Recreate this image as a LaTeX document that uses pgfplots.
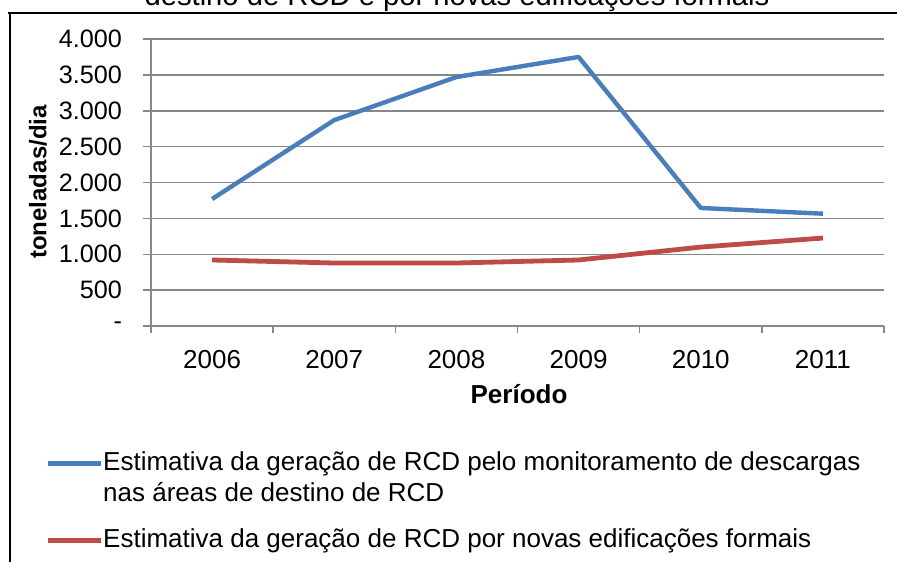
\documentclass[border=0pt]{standalone}
\usepackage{pgfplots}
\pgfplotsset{compat=1.18}
\usepackage{fontspec}
\setmainfont{Liberation Sans}
\definecolor{serA}{HTML}{4A7EBB}
\definecolor{serB}{HTML}{BE4B48}
\definecolor{gridc}{HTML}{888888}
\pgfplotsset{
  legA/.style={legend image code/.code={\draw[##1] (0pt,19pt) -- (26.5pt,19pt);}},
  legB/.style={legend image code/.code={\draw[##1] (0pt,3.5pt) -- (26.5pt,3.5pt);}},
}
\begin{document}
\fontsize{13pt}{13.5pt}\selectfont
\begin{tikzpicture}
\useasboundingbox (0,0) rectangle (448.5pt,-280.5pt);
\draw[line width=1pt] (4pt,-6.5pt) -- (460pt,-6.5pt);
\draw[line width=1pt] (5pt,-6.5pt) -- (5pt,-290pt);
\node[anchor=base,font=\fontsize{14.6pt}{16pt}\selectfont] at (228.5pt,-3pt) {destino de RCD e por novas edificações formais};
\node[rotate=90,font=\fontsize{12pt}{13pt}\selectfont\bfseries] at (19pt,-91pt) {toneladas/dia};
\node[font=\bfseries] at (259.5pt,-197pt) {Período};
\begin{axis}[at={(75.5pt,-163pt)}, anchor=south west,
  width=366.5pt, height=143.5pt, scale only axis,
  xmin=-0.5, xmax=5.5, ymin=0, ymax=4000,
  axis x line*=bottom, axis y line*=left,
  axis line style={gridc, line width=0.75pt},
  xtick={0,...,5}, xticklabels={2006,2007,2008,2009,2010,2011},
  minor xtick={-0.5,0.5,...,5.5},
  ytick={0,500,...,4000},
  yticklabels={-,500,1.000,1.500,2.000,2.500,3.000,3.500,4.000},
  tick align=outside,
  major x tick style={draw=none},
  minor x tick style={gridc, line width=0.75pt},
  major y tick style={gridc, line width=0.75pt},
  major tick length=4pt, minor tick length=3.5pt,
  ymajorgrids, grid style={gridc, line width=0.75pt},
  yticklabel style={xshift=-6pt, font=\fontsize{12.6pt}{13pt}\selectfont},
  xticklabel style={yshift=-3.5pt, font=\fontsize{13pt}{13.5pt}\selectfont},
  legend style={at={(axis description cs:-0.1446,-0.437)}, anchor=north west,
    draw=none, fill=none, inner sep=0pt, row sep=11.5pt,
    nodes={inner sep=0pt, align=left, anchor=base west,
      font=\fontsize{13pt}{15.5pt}\selectfont},
    font=\fontsize{13pt}{15.5pt}\selectfont},
  legend cell align=left,
  ]
\addplot[serA, line width=2.2pt, line join=round, legA]
  coordinates {(0,1770) (1,2870) (2,3470) (3,3750) (4,1645) (5,1565)};
\addlegendentry{Estimativa da geração de RCD pelo monitoramento de descargas\\nas áreas de destino de RCD}
\addplot[serB, line width=2.4pt, line join=round, legB]
  coordinates {(0,920) (1,878) (2,878) (3,920) (4,1100) (5,1226)};
\addlegendentry{Estimativa da geração de RCD por novas edificações formais}
\end{axis}
\end{tikzpicture}
\end{document}
